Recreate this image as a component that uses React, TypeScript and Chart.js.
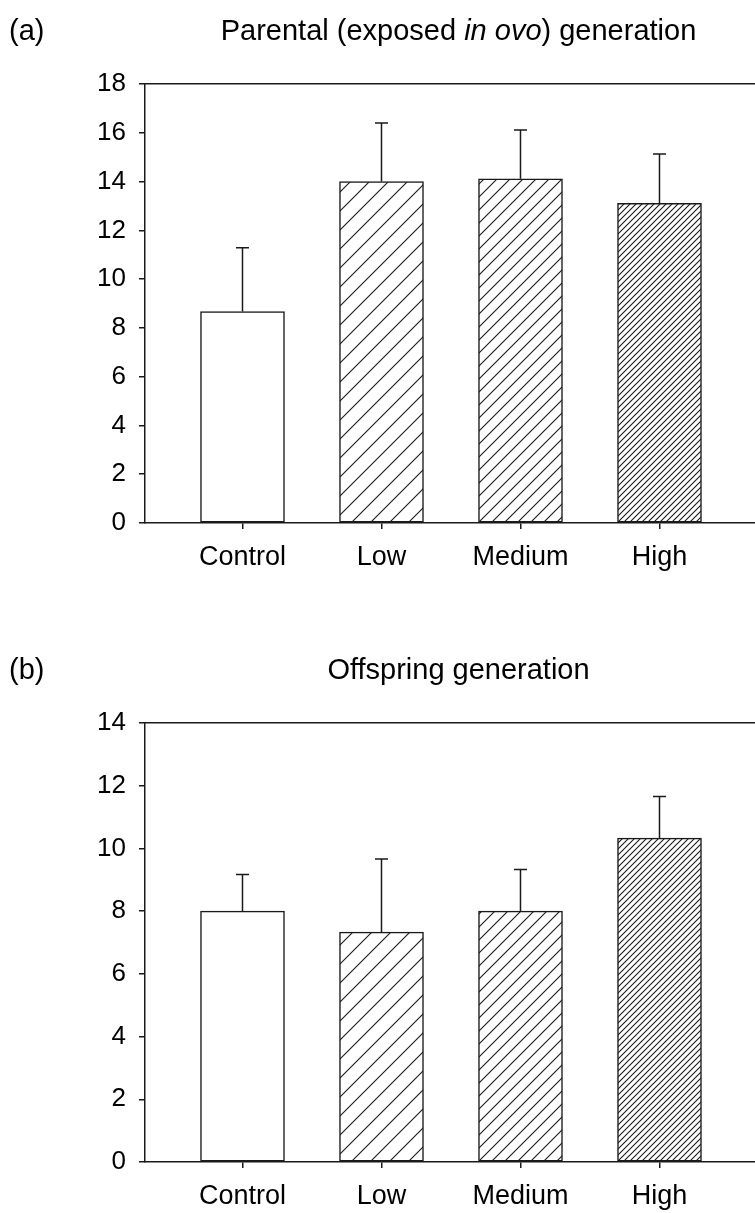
import React, { useEffect, useRef } from 'react';
import { Chart, registerables } from 'chart.js';

Chart.register(...registerables);

// Treatment groups and group means with their standard errors
const categories = ['Control', 'Low', 'Medium', 'High'];
const parentalMeans = [8.67, 14.0, 14.11, 13.11];
const parentalErrors = [2.62, 2.4, 2.0, 2.02];
const offspringMeans = [8.0, 7.33, 8.0, 10.33];
const offspringErrors = [1.17, 2.33, 1.33, 1.33];

// Value axis ranges
const parentalAxisMax = 18;
const offspringAxisMax = 14;
const axisStep = 2;

// Hatch spacing (px) for each treatment; 0 means a plain white bar
const hatchSpacing = [0, 19, 13, 6];

const FONT = "'Liberation Sans', Arial, Helvetica, sans-serif";
const INK = '#1a1a1a';

const CANVAS_W = 770;
const CANVAS_H = 574;

type TitlePart = { text: string; italic?: boolean };

function makeHatch(ctx: CanvasRenderingContext2D, spacing: number): string | CanvasPattern {
  if (!spacing) return '#ffffff';
  const tile = document.createElement('canvas');
  tile.width = spacing;
  tile.height = spacing;
  const g = tile.getContext('2d')!;
  g.fillStyle = '#ffffff';
  g.fillRect(0, 0, spacing, spacing);
  g.strokeStyle = INK;
  g.lineWidth = 1.1;
  g.beginPath();
  for (const o of [-spacing, 0, spacing]) {
    g.moveTo(o - 1, spacing + 1);
    g.lineTo(o + spacing + 1, -1);
  }
  g.stroke();
  return ctx.createPattern(tile, 'repeat') || '#ffffff';
}

// Upper standard-error whiskers with a short cap
const errorBars = {
  id: 'errorBars',
  afterDatasetsDraw(chart: any, _args: any, opts: any) {
    const { ctx } = chart;
    const yScale = chart.scales.y;
    const meta = chart.getDatasetMeta(0);
    const values = chart.data.datasets[0].data;
    ctx.save();
    ctx.strokeStyle = INK;
    ctx.lineWidth = 1.5;
    meta.data.forEach((bar: any, i: number) => {
      const top = yScale.getPixelForValue(values[i].y + opts.errors[i]);
      ctx.beginPath();
      ctx.moveTo(bar.x, bar.y);
      ctx.lineTo(bar.x, top);
      ctx.moveTo(bar.x - 6.5, top);
      ctx.lineTo(bar.x + 6.5, top);
      ctx.stroke();
    });
    ctx.restore();
  },
};

// Panel letter and centred heading (with italic segments)
const panelTitle = {
  id: 'panelTitle',
  afterDraw(chart: any, _args: any, opts: any) {
    const { ctx } = chart;
    const size = opts.size;
    const baseline = opts.baseline;
    ctx.save();
    ctx.fillStyle = '#000';
    ctx.textBaseline = 'alphabetic';
    ctx.textAlign = 'left';
    ctx.font = `${size}px ${FONT}`;
    ctx.fillText(opts.tag, 9, baseline);
    const parts: TitlePart[] = opts.parts;
    const fontFor = (p: TitlePart) => `${p.italic ? 'italic ' : ''}${size}px ${FONT}`;
    let total = 0;
    const widths = parts.map((p) => {
      ctx.font = fontFor(p);
      const w = ctx.measureText(p.text).width;
      total += w;
      return w;
    });
    let x = opts.center - total / 2;
    parts.forEach((p, i) => {
      ctx.font = fontFor(p);
      ctx.fillText(p.text, x, baseline);
      x += widths[i];
    });
    ctx.restore();
  },
};

type PanelProps = {
  top: number;
  tag: string;
  parts: TitlePart[];
  means: number[];
  errors: number[];
  yMax: number;
};

function Panel({ top, tag, parts, means, errors, yMax }: PanelProps) {
  const ref = useRef<HTMLCanvasElement | null>(null);

  useEffect(() => {
    const canvas = ref.current!;
    const ctx = canvas.getContext('2d')!;
    const fills = hatchSpacing.map((s) => makeHatch(ctx, s));

    const axisLine = { display: true, color: INK, width: 1.5 };
    const tickGrid = {
      display: true,
      offset: false,
      drawOnChartArea: false,
      drawTicks: true,
      tickLength: 6,
      color: INK,
      lineWidth: 1.5,
    };

    const chart = new Chart(ctx, {
      type: 'bar',
      data: {
        datasets: [
          {
            data: means.map((m, i) => ({ x: i + 1, y: m })),
            backgroundColor: fills,
            borderColor: INK,
            borderWidth: 1.5,
            borderSkipped: false,
            barThickness: 84,
          },
        ],
      },
      options: {
        animation: false,
        responsive: false,
        devicePixelRatio: 1,
        layout: { padding: { top: 84, left: 0, right: 0, bottom: 0 } },
        plugins: {
          legend: { display: false },
          tooltip: { enabled: false },
          errorBars: { errors },
          panelTitle: { tag, parts, size: 29, baseline: 40, center: 458.5 },
        } as any,
        scales: {
          x: {
            type: 'linear',
            position: 'bottom',
            offset: false,
            min: 0.2986,
            max: 4.795,
            afterBuildTicks: (s: any) => {
              s.ticks = categories.map((_, i) => ({ value: i + 1 }));
            },
            afterFit: (s: any) => {
              s.height = CANVAS_H - 523;
            },
            ticks: {
              autoSkip: false,
              maxRotation: 0,
              padding: 12,
              color: '#000',
              font: { family: FONT, size: 27 },
              callback: (v: any) => categories[Math.round(Number(v)) - 1] ?? '',
            },
            grid: tickGrid,
            border: axisLine,
          },
          frameTop: {
            type: 'linear',
            axis: 'x',
            position: 'top',
            offset: false,
            min: 0,
            max: 1,
            ticks: { display: false },
            grid: { display: false, drawTicks: false },
            border: axisLine,
            afterFit: (s: any) => {
              s.height = 0;
            },
          },
          y: {
            min: 0,
            max: yMax,
            ticks: {
              stepSize: axisStep,
              padding: 13,
              color: '#000',
              font: { family: FONT, size: 26 },
            },
            afterFit: (s: any) => {
              s.width = 145;
            },
            grid: tickGrid,
            border: axisLine,
          },
        } as any,
      },
      plugins: [errorBars, panelTitle],
    });

    return () => chart.destroy();
  }, [tag, parts, means, errors, yMax]);

  return (
    <canvas
      ref={ref}
      width={CANVAS_W}
      height={CANVAS_H}
      style={{ position: 'absolute', left: 0, top, width: CANVAS_W, height: CANVAS_H }}
    />
  );
}

const parentalTitle: TitlePart[] = [
  { text: 'Parental (exposed ' },
  { text: 'in ovo', italic: true },
  { text: ') generation' },
];
const offspringTitle: TitlePart[] = [{ text: 'Offspring generation' }];

export default function App() {
  return (
    <div
      style={{
        position: 'absolute',
        left: 0,
        top: 0,
        width: 755,
        height: 1213,
        overflow: 'hidden',
        background: '#ffffff',
      }}
    >
      <Panel
        top={0}
        tag="(a)"
        parts={parentalTitle}
        means={parentalMeans}
        errors={parentalErrors}
        yMax={parentalAxisMax}
      />
      <Panel
        top={639}
        tag="(b)"
        parts={offspringTitle}
        means={offspringMeans}
        errors={offspringErrors}
        yMax={offspringAxisMax}
      />
    </div>
  );
}
